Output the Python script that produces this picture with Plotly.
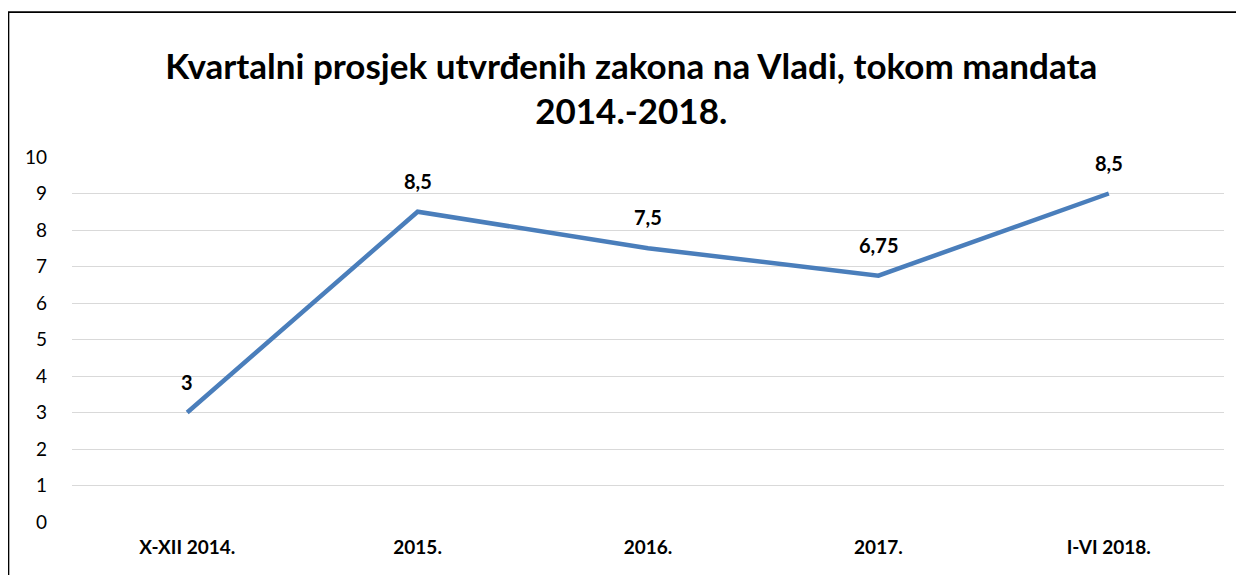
import plotly.graph_objects as go

categories = ["X-XII 2014.", "2015.", "2016.", "2017.", "I-VI 2018."]
values = [3, 8.5, 7.5, 6.75, 9]
label_texts = ["3", "8,5", "7,5", "6,75", "8,5"]
y_ticks = list(range(0, 11))

FONT = "Lato, 'Open Sans', sans-serif"

fig = go.Figure()
fig.add_trace(go.Scatter(
    x=categories, y=values, mode="lines",
    line=dict(color="#4A7EBB", width=4.5),
    hoverinfo="skip", showlegend=False,
))

annotations = [
    dict(x=i, y=v, xref="x", yref="y", text=t, showarrow=False,
         yshift=31, yanchor="middle", xanchor="center",
         font=dict(family=FONT, size=20, color="#000000", weight="bold"))
    for i, (v, t) in enumerate(zip(values, label_texts))
]

fig.update_layout(
    width=1244, height=575,
    margin=dict(l=64, r=28, t=149, b=61),
    paper_bgcolor="white", plot_bgcolor="white",
    title=dict(
        text="Kvartalni prosjek utvrđenih zakona na Vladi, tokom mandata<br>2014.-2018.",
        x=0.501, xanchor="center", y=0.877, yanchor="middle",
        font=dict(family=FONT, size=35, color="#000000", weight="bold"),
    ),
    xaxis=dict(
        type="category", range=[-0.5, 4.5], showgrid=False, zeroline=False,
        showline=False, ticks="", ticklabelstandoff=12,
        tickfont=dict(family=FONT, size=19, color="#000000", weight="bold"),
    ),
    yaxis=dict(
        range=[0, 10], tickvals=y_ticks, showgrid=True, gridcolor="#D9D9D9",
        gridwidth=1.3, zeroline=False, showline=False, ticks="",
        ticklabelstandoff=24,
        tickfont=dict(family=FONT, size=19, color="#000000"),
    ),
    annotations=annotations,
    shapes=[dict(
        type="path", xref="paper", yref="paper",
        path="M -0.0551,-0.3 L -0.0551,1.397 L 1.05,1.397",
        line=dict(color="#000000", width=1.6),
    )],
)

fig.write_html("out.html")
